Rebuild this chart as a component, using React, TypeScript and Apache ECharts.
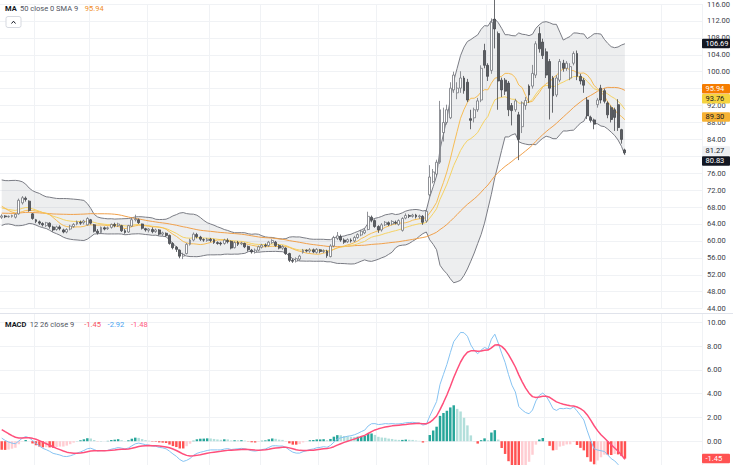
import React, { useEffect, useRef } from 'react';
import * as echarts from 'echarts';

// ---- data ----
const opens = [
  65.6, 65.9, 65.7, 65.8, 65.6, 66.4, 69.0, 70.1, 69.4, 66.4,
  65.0, 64.5, 64.1, 63.6, 64.2, 63.3, 62.7, 63.3, 62.6, 62.1,
  62.8, 63.4, 64.0, 64.4, 64.3, 63.8, 65.0, 63.8, 62.3, 62.0,
  63.1, 62.9, 63.2, 63.9, 63.6, 63.6, 62.4, 62.1, 63.5, 65.0,
  65.0, 64.0, 62.9, 62.5, 62.7, 62.2, 62.6, 61.6, 61.8, 61.3,
  59.4, 58.5, 57.8, 56.4, 57.0, 59.2, 60.2, 61.5, 60.9, 60.3,
  60.1, 60.4, 60.3, 59.6, 59.5, 59.4, 60.1, 59.9, 58.4, 59.6,
  59.3, 59.4, 58.7, 57.8, 57.3, 57.8, 58.5, 59.0, 58.9, 59.6,
  59.7, 58.9, 58.3, 58.3, 57.0, 55.4, 55.2, 55.7, 57.3, 57.8,
  57.6, 57.9, 57.3, 57.9, 57.5, 57.6, 56.3, 58.8, 60.6, 61.0,
  60.2, 59.8, 60.2, 60.0, 60.8, 61.4, 61.9, 62.7, 65.6, 64.8,
  63.4, 62.6, 63.8, 64.3, 64.0, 64.4, 63.9, 62.5,
  65.4, 66.0, 65.8, 66.1, 65.7, 65.8, 64.7, 70.9, 74.0, 75.8,
  78.6, 85.6, 88.0, 89.1, 95.7, 95.0, 96.1, 98.5, 97.5, 88.9,
  89.1, 91.0, 93.3, 105.0, 101.5, 100.3, 112.4, 109.0, 98.0, 98.0,
  97.3, 92.0, 91.0, 89.8, 87.0, 92.0, 96.6, 96.6, 99.2, 109.0,
  107.0, 104.7, 102.4, 98.5, 94.5, 98.0, 102.0, 100.8, 98.5, 102.0,
  104.3, 98.9, 98.0, 93.3, 89.2, 88.6, 92.2, 96.1, 95.5, 92.6,
  91.5, 91.0, 92.2, 86.3, 81.5,
];
const closes = [
  65.9, 65.7, 65.8, 66.0, 66.3, 69.6, 70.2, 69.8, 67.2, 65.3,
  64.6, 64.2, 63.8, 64.3, 63.4, 62.6, 63.3, 62.9, 62.1, 62.7,
  63.5, 63.9, 64.5, 64.2, 64.7, 65.3, 64.2, 62.3, 61.9, 63.2,
  62.8, 63.1, 63.9, 63.6, 64.0, 62.4, 62.0, 63.6, 65.0, 65.2,
  64.3, 63.0, 62.6, 62.8, 62.2, 62.6, 61.6, 61.9, 61.3, 59.4,
  58.4, 58.0, 56.4, 56.8, 59.2, 60.2, 61.6, 61.0, 60.4, 60.2,
  60.4, 60.1, 59.6, 59.4, 59.3, 60.2, 59.8, 58.3, 59.6, 59.2,
  59.5, 58.6, 57.9, 57.4, 57.8, 58.6, 59.0, 58.8, 59.7, 60.1,
  58.9, 58.3, 58.7, 57.0, 55.4, 55.2, 55.8, 56.4, 57.8, 57.6,
  57.9, 57.4, 58.0, 57.5, 57.7, 56.5, 58.8, 60.8, 61.2, 60.2,
  59.7, 60.3, 60.0, 60.8, 61.5, 62.3, 62.5, 65.8, 64.9, 63.4,
  62.6, 63.8, 64.4, 63.9, 64.6, 64.2, 64.8, 65.3,
  66.0, 65.8, 66.1, 65.7, 65.9, 64.4, 67.0, 75.1, 76.3, 78.6,
  91.0, 88.0, 91.0, 96.1, 99.2, 96.1, 98.5, 95.5, 93.3, 88.5,
  91.0, 93.1, 100.8, 101.5, 98.9, 111.7, 110.1, 97.8, 95.7, 95.4,
  91.0, 90.8, 93.1, 84.0, 92.6, 93.2, 94.5, 99.6, 106.6, 105.4,
  103.8, 99.2, 96.1, 94.3, 98.5, 102.4, 100.8, 102.0, 101.2, 104.3,
  98.9, 97.8, 96.8, 89.6, 88.5, 87.6, 93.3, 93.3, 93.0, 89.8,
  88.7, 89.2, 86.8, 84.0, 80.83,
];
const lows = [
  65.2, 65.4, 65.5, 65.5, 65.3, 66.2, 68.6, 69.3, 66.9, 65.0,
  64.2, 63.8, 63.4, 63.3, 62.9, 62.2, 62.4, 62.5, 61.8, 61.8,
  62.5, 63.1, 63.7, 63.8, 63.9, 63.6, 63.9, 62.0, 61.5, 61.8,
  62.5, 62.6, 62.9, 63.2, 63.3, 62.1, 61.7, 61.9, 63.3, 64.6,
  64.0, 62.7, 62.2, 62.0, 61.8, 61.9, 61.3, 61.2, 61.0, 59.1,
  58.0, 57.4, 55.9, 55.7, 56.8, 58.9, 59.9, 60.6, 60.0, 59.8,
  59.8, 59.7, 59.3, 59.1, 58.9, 59.1, 59.4, 58.0, 58.2, 58.8,
  59.0, 58.3, 57.5, 57.0, 57.0, 57.5, 58.2, 58.5, 58.6, 59.3,
  58.6, 58.0, 57.9, 56.7, 55.0, 54.8, 54.9, 55.3, 57.0, 57.3,
  57.2, 57.1, 57.0, 57.1, 57.1, 56.0, 56.1, 58.5, 60.2, 59.8,
  59.3, 59.5, 59.6, 59.7, 60.5, 61.1, 61.6, 62.5, 64.4, 63.1,
  61.9, 62.2, 63.5, 63.5, 63.7, 63.9, 63.6, 62.2,
  65.1, 65.4, 65.5, 65.3, 65.2, 63.8, 64.3, 70.5, 73.6, 75.3,
  78.2, 83.5, 87.5, 88.8, 95.0, 93.5, 95.0, 94.8, 92.8, 86.4,
  88.0, 90.5, 92.8, 100.8, 97.8, 99.5, 105.5, 91.0, 94.0, 94.5,
  89.5, 87.3, 90.5, 79.1, 85.5, 91.0, 92.6, 96.0, 98.5, 104.5,
  103.0, 98.5, 88.7, 90.3, 94.0, 97.5, 100.0, 100.2, 98.0, 101.5,
  98.0, 97.0, 95.0, 88.8, 88.0, 86.4, 91.5, 92.5, 92.5, 89.0,
  88.0, 86.0, 86.0, 83.0, 80.5,
];
const highs = [
  66.3, 66.1, 66.0, 66.2, 66.5, 70.0, 70.6, 70.5, 69.6, 66.6,
  65.2, 64.8, 64.4, 64.5, 64.4, 63.6, 63.6, 63.7, 62.9, 63.0,
  63.8, 64.2, 64.8, 64.8, 65.0, 65.6, 65.2, 64.0, 62.8, 63.4,
  63.4, 63.4, 64.1, 64.3, 64.3, 63.8, 62.8, 63.8, 65.5, 66.2,
  65.3, 64.1, 63.1, 63.0, 63.2, 62.9, 62.8, 62.2, 62.0, 61.5,
  59.7, 58.8, 58.0, 57.2, 59.5, 60.5, 62.0, 61.9, 61.2, 60.6,
  60.7, 60.7, 60.5, 59.9, 59.8, 60.5, 60.6, 60.1, 59.9, 60.0,
  59.8, 59.6, 58.9, 58.1, 58.2, 58.9, 59.3, 59.4, 60.0, 60.4,
  60.0, 59.2, 59.0, 58.5, 57.2, 55.8, 56.1, 56.7, 58.1, 58.0,
  58.3, 58.2, 58.3, 58.1, 58.0, 57.9, 59.2, 61.2, 62.1, 61.5,
  60.6, 60.6, 60.6, 61.2, 61.8, 62.6, 63.0, 66.9, 66.0, 65.1,
  63.7, 64.2, 64.7, 64.6, 64.9, 64.8, 65.1, 65.6,
  66.5, 66.3, 66.4, 66.4, 66.2, 66.1, 67.4, 77.9, 77.0, 79.2,
  93.1, 91.5, 92.2, 97.5, 100.0, 97.5, 100.1, 99.0, 98.3, 91.0,
  91.5, 93.8, 101.5, 106.6, 102.0, 112.6, 117.5, 109.5, 98.6, 98.5,
  97.8, 92.6, 93.6, 90.5, 93.0, 94.0, 97.0, 101.6, 107.2, 110.6,
  107.8, 105.5, 103.0, 99.0, 99.2, 103.0, 102.8, 102.5, 102.0, 104.8,
  105.0, 99.5, 98.5, 94.0, 89.6, 88.9, 93.8, 96.9, 96.0, 93.0,
  92.0, 91.5, 93.5, 86.5, 81.8,
];
// closes before the visible window (off-screen), estimated from the indicator levels at the left edge
const priorCloses = [
  64.5, 64.0, 63.2, 63.8, 64.5, 64.0, 63.5, 62.8, 63.2, 62.5, 62.0, 62.6, 63.0, 62.4,
  63.0, 64.2, 65.5, 67.0, 68.8, 70.5, 72.0, 73.2, 73.8,
  72.5, 71.2, 70.5, 71.0, 69.8, 68.5, 68.9, 67.8, 67.0, 66.6, 66.0,
];
// values shown in the price-scale tags and legends
const priceTagValues = [106.69, 95.94, 93.76, 89.3, 81.27, 80.83];
const macdTagValue = -1.45;
const maLegendValue = '95.94';
const macdLegendValues = ['-1.45', '-2.92', '-1.48'];
// price-scale ticks fully covered by the tags in the reference
const coveredTicks = [80, 96];
// bar indices where the vertical time grid lines fall
const timeGridBars = [10, 26, 43, 61, 76, 93, 110, 125, 142, 159, 174, 193];
const TOTAL_SLOTS = 205;

// ---- styles ----
const FONT = 'Roboto, "Noto Sans", sans-serif';
const tagStyles = [
  { bg: '#131722', fg: '#ffffff' },
  { bg: '#f57c00', fg: '#ffffff' },
  { bg: '#f5d33f', fg: '#131722' },
  { bg: '#f6b234', fg: '#131722' },
  { bg: '#eef0f3', fg: '#131722' },
  { bg: '#131722', fg: '#ffffff' },
];

function r2(v: number) {
  return Math.round(v * 100) / 100;
}

export default function App() {
  const ref = useRef<HTMLDivElement>(null);

  useEffect(() => {
    const el = ref.current!;
    const chart = echarts.init(el, undefined, { renderer: 'svg' });

    const all = priorCloses.concat(closes);
    const P = priorCloses.length;
    const smaAll = (n: number) =>
      all.map((_, i) => {
        const s = Math.max(0, i - n + 1);
        let sum = 0;
        for (let k = s; k <= i; k++) sum += all[k];
        return sum / (i - s + 1);
      });
    const emaOf = (arr: number[], n: number) => {
      const a = 2 / (n + 1);
      let prev = arr[0];
      return arr.map((v, i) => (prev = i === 0 ? v : a * v + (1 - a) * prev));
    };
    const bbUp: number[] = [];
    const bbLo: number[] = [];
    all.forEach((_, i) => {
      const s = Math.max(0, i - 19);
      const w = all.slice(s, i + 1);
      const m = w.reduce((x, y) => x + y, 0) / w.length;
      const sd = Math.sqrt(w.reduce((x, y) => x + (y - m) * (y - m), 0) / w.length);
      bbUp.push(m + 2 * sd);
      bbLo.push(m - 2 * sd);
    });
    const ma50 = smaAll(50).slice(P).map(r2);
    const ma10 = smaAll(10).slice(P).map(r2);
    const ema20 = emaOf(all, 20).slice(P).map(r2);
    const lower = bbLo.slice(P).map(r2);
    const width = bbUp.slice(P).map((u, i) => r2(u - bbLo[i + P]));
    const e12 = emaOf(all, 12);
    const e26 = emaOf(all, 26);
    const macdAll = e12.map((v, i) => v - e26[i]);
    const sigAll = emaOf(macdAll, 9);
    const macd = macdAll.slice(P).map(r2);
    const signal = sigAll.slice(P).map(r2);
    const histAll = macdAll.map((v, i) => v - sigAll[i]);
    const hist = histAll.slice(P).map((h, i) => {
      const prev = histAll[i + P - 1];
      let color;
      if (h >= 0) color = h > prev ? '#26a69a' : '#b2dfdb';
      else color = h < prev ? '#ff5252' : '#ffcdd2';
      return { value: r2(h), itemStyle: { color } };
    });
    const candles = closes.map((c, i) => [opens[i], c, lows[i], highs[i]]);
    const cats = Array.from({ length: TOTAL_SLOTS }, (_, i) => String(i));

    const xAxisBase = (gridIndex: number) => ({
      type: 'category',
      gridIndex,
      data: cats,
      boundaryGap: true,
      axisLine: { show: false },
      axisTick: { show: false },
      axisLabel: { show: false },
      splitLine: {
        show: true,
        interval: (idx: number) => timeGridBars.includes(idx),
        lineStyle: { color: '#f0f2f5', width: 1 },
      },
    });

    chart.setOption({
      animation: false,
      backgroundColor: '#ffffff',
      grid: [
        { left: 0, right: 31, top: 0, height: 308.6 },
        { left: 0, right: 31, top: 313, height: 152.6 },
      ],
      xAxis: [xAxisBase(0), xAxisBase(1)],
      yAxis: [
        {
          type: 'value',
          gridIndex: 0,
          position: 'right',
          min: 44,
          max: 116,
          interval: 4,
          axisLine: { show: false },
          axisTick: { show: false },
          axisLabel: {
            margin: 5,
            fontSize: 7.5,
            fontFamily: FONT,
            color: '#3b3e48',
            formatter: (v: number) => (coveredTicks.includes(v) ? '' : v.toFixed(2)),
          },
          splitLine: { lineStyle: { color: '#f0f2f5' } },
        },
        {
          type: 'value',
          gridIndex: 1,
          position: 'right',
          min: -2,
          max: 10.78,
          interval: 2,
          axisLine: { show: false },
          axisTick: { show: false },
          axisLabel: {
            margin: 5,
            fontSize: 7.5,
            fontFamily: FONT,
            color: '#3b3e48',
            showMinLabel: false,
            showMaxLabel: false,
            formatter: (v: number) => v.toFixed(2),
          },
          splitLine: { lineStyle: { color: '#f0f2f5' } },
        },
      ],
      series: [
        {
          type: 'line',
          name: 'BB lower',
          data: lower,
          stack: 'bb',
          symbol: 'none',
          lineStyle: { color: '#7a7c84', width: 1 },
          z: 1,
        },
        {
          type: 'line',
          name: 'BB upper',
          data: width,
          stack: 'bb',
          symbol: 'none',
          lineStyle: { color: '#7a7c84', width: 1 },
          areaStyle: { color: 'rgba(130,134,142,0.2)' },
          z: 1,
        },
        {
          type: 'line',
          name: 'MA50',
          data: ma50,
          symbol: 'none',
          lineStyle: { color: '#f0a04b', width: 1 },
          z: 2,
        },
        {
          type: 'line',
          name: 'EMA20',
          data: ema20,
          symbol: 'none',
          lineStyle: { color: '#f5d264', width: 1 },
          z: 2,
        },
        {
          type: 'line',
          name: 'MA10',
          data: ma10,
          symbol: 'none',
          lineStyle: { color: '#f6bd55', width: 1 },
          z: 2,
        },
        {
          type: 'candlestick',
          data: candles,
          barWidth: 2.4,
          itemStyle: {
            color: '#ffffff',
            color0: '#5c5e63',
            borderColor: '#74767c',
            borderColor0: '#45474c',
            borderWidth: 0.8,
          },
          z: 3,
        },
        {
          type: 'bar',
          xAxisIndex: 1,
          yAxisIndex: 1,
          data: hist,
          barWidth: '72%',
          z: 1,
        },
        {
          type: 'line',
          xAxisIndex: 1,
          yAxisIndex: 1,
          data: macd,
          symbol: 'none',
          lineStyle: { color: '#86c3f2', width: 1 },
          z: 2,
        },
        {
          type: 'line',
          xAxisIndex: 1,
          yAxisIndex: 1,
          data: signal,
          symbol: 'none',
          lineStyle: { color: '#ff4f7b', width: 1.5 },
          z: 3,
        },
      ],
    });

    // overlay: legends, separators, price-scale tags
    const g: any[] = [];
    g.push({
      type: 'line',
      silent: true,
      shape: { x1: 0, y1: 313.5, x2: 733, y2: 313.5 },
      style: { stroke: '#e0e3eb', lineWidth: 1 },
      z: 50,
    });
    g.push({
      type: 'text',
      x: 5,
      y: 8,
      z: 60,
      style: {
        text: '{a|MA} {b|50 close 0 SMA 9}  {c|' + maLegendValue + '}',
        verticalAlign: 'middle',
        rich: {
          a: { fontSize: 7.5, fontFamily: FONT, fill: '#131722', fontWeight: 'bold' },
          b: { fontSize: 7.5, fontFamily: FONT, fill: '#50535e' },
          c: { fontSize: 7.5, fontFamily: FONT, fill: '#f08c1e' },
        },
      },
    });
    g.push({
      type: 'rect',
      z: 60,
      shape: { x: 6, y: 16.5, width: 15, height: 11, r: 2 },
      style: { fill: '#ffffff', stroke: '#d6d9e0', lineWidth: 1 },
    });
    g.push({
      type: 'polyline',
      z: 61,
      shape: { points: [[11.5, 23.5], [13.5, 21.2], [15.5, 23.5]] },
      style: { stroke: '#131722', lineWidth: 1, fill: null },
    });
    g.push({
      type: 'text',
      x: 5,
      y: 324,
      z: 60,
      style: {
        text:
          '{a|MACD} {b|12 26 close 9}   {h|' +
          macdLegendValues[0] +
          '}  {m|' +
          macdLegendValues[1] +
          '}  {s|' +
          macdLegendValues[2] +
          '}',
        verticalAlign: 'middle',
        rich: {
          a: { fontSize: 7.5, fontFamily: FONT, fill: '#131722', fontWeight: 'bold' },
          b: { fontSize: 7.5, fontFamily: FONT, fill: '#50535e' },
          h: { fontSize: 7.5, fontFamily: FONT, fill: '#f7525f' },
          m: { fontSize: 7.5, fontFamily: FONT, fill: '#4aa3f0' },
          s: { fontSize: 7.5, fontFamily: FONT, fill: '#ff5a7e' },
        },
      },
    });

    // price tags with overlap resolution
    const tagH = 9.5;
    let lastY = -100;
    priceTagValues.forEach((v, i) => {
      let py = chart.convertToPixel({ yAxisIndex: 0 } as any, v) as number;
      if (py < lastY + tagH + 0.5) py = lastY + tagH + 0.5;
      lastY = py;
      const st = tagStyles[i];
      g.push({
        type: 'rect',
        z: 70,
        shape: { x: 702, y: py - tagH / 2, width: 28, height: tagH, r: 1 },
        style: { fill: st.bg },
      });
      g.push({
        type: 'text',
        z: 71,
        x: 705.5,
        y: py,
        style: {
          text: v.toFixed(2),
          fill: st.fg,
          fontSize: 7.5,
          fontFamily: FONT,
          verticalAlign: 'middle',
          align: 'left',
        },
      });
    });
    const my = chart.convertToPixel({ yAxisIndex: 1 } as any, macdTagValue) as number;
    g.push({
      type: 'rect',
      z: 70,
      shape: { x: 702, y: my - tagH / 2, width: 28, height: tagH, r: 1 },
      style: { fill: '#ff5252' },
    });
    g.push({
      type: 'text',
      z: 71,
      x: 705.5,
      y: my,
      style: {
        text: macdTagValue.toFixed(2),
        fill: '#ffffff',
        fontSize: 7.5,
        fontFamily: FONT,
        verticalAlign: 'middle',
        align: 'left',
      },
    });
    chart.setOption({ graphic: g });

    return () => chart.dispose();
  }, []);

  return (
    <div
      ref={ref}
      style={{ position: 'absolute', left: 0, top: 0, width: 733, height: 465, background: '#fff' }}
    />
  );
}
